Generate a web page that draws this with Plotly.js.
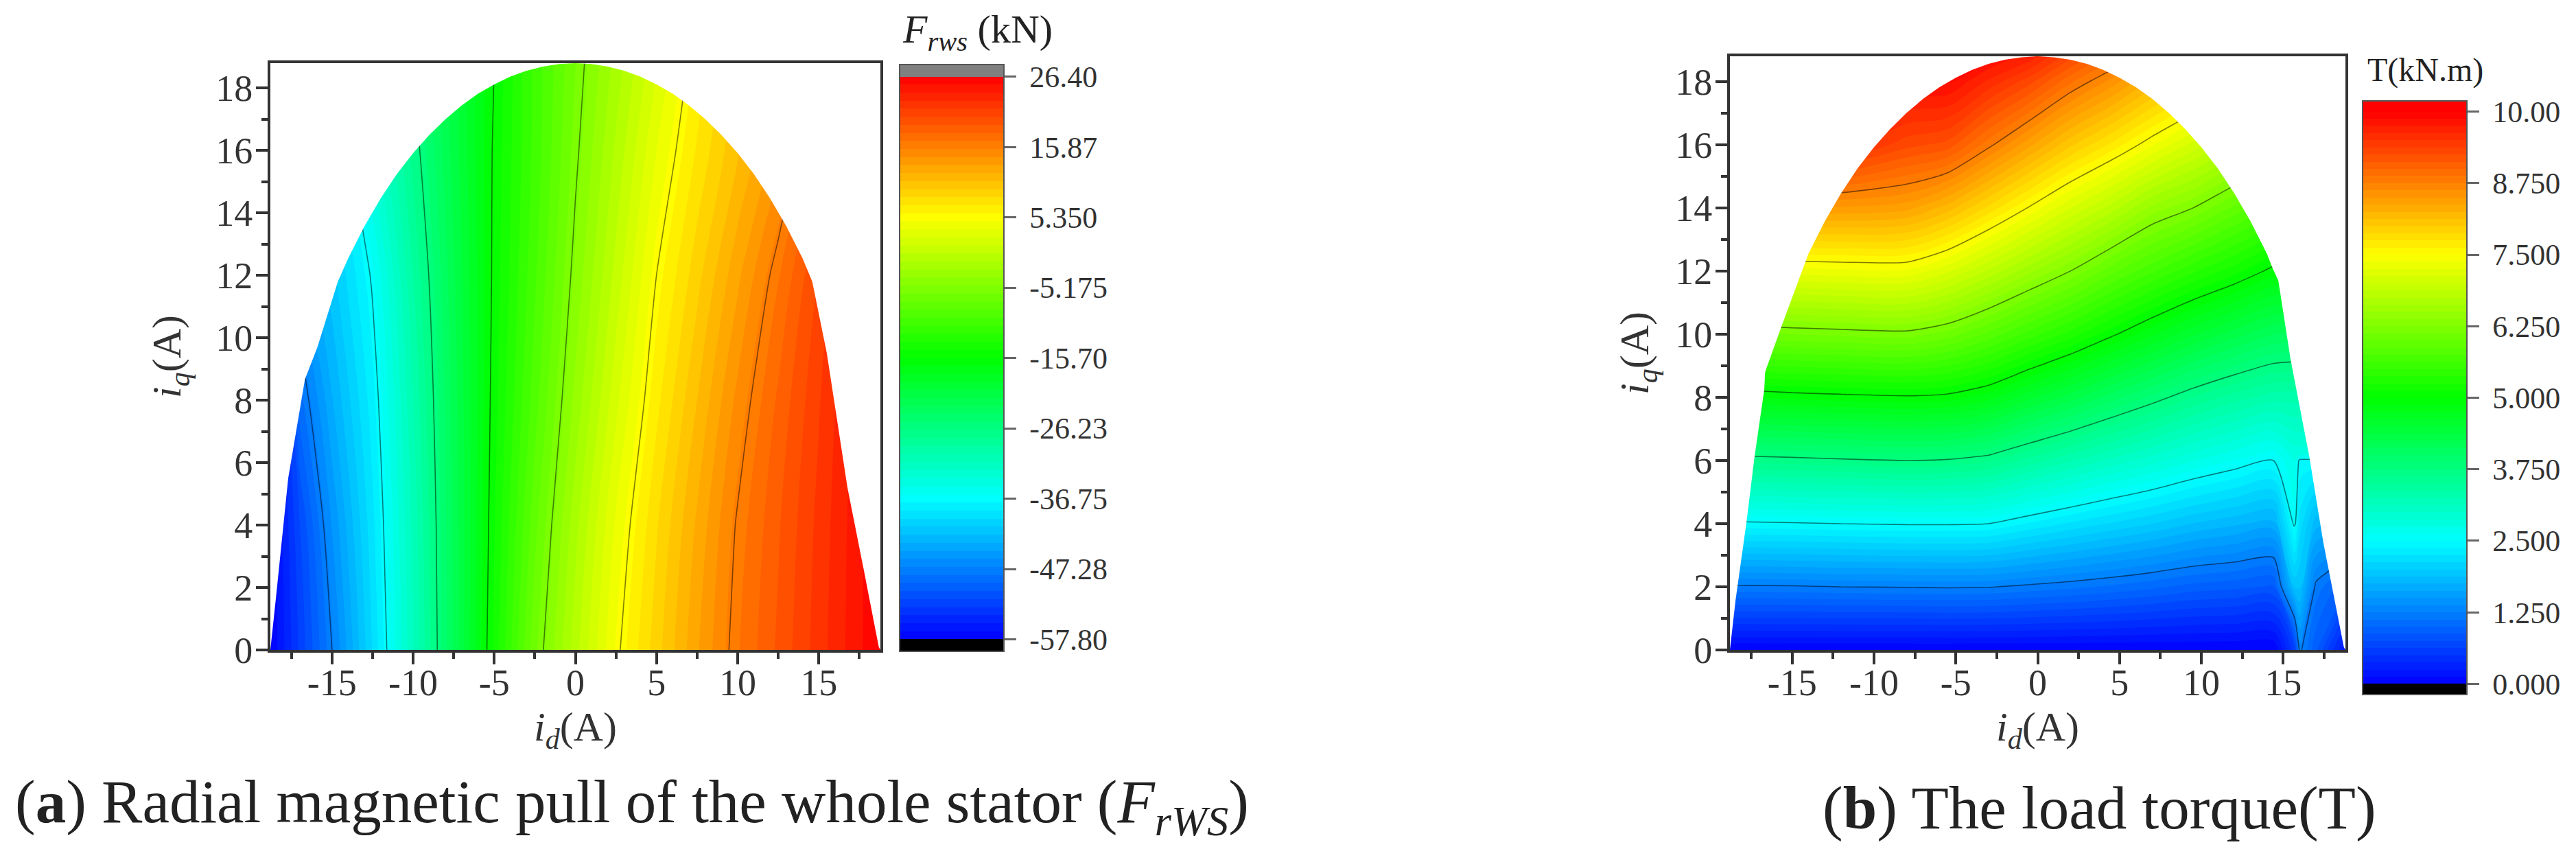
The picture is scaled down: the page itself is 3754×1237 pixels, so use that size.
<!DOCTYPE html>
<html>
<head>
<meta charset="utf-8">
<script src="https://cdn.plot.ly/plotly-3.0.1.min.js"></script>
<style>html,body{margin:0;padding:0;background:#fff}</style>
</head>
<body>
<div id="chart"></div>
<script>
// left panel: radial pull, kN
var idA = [-18.8,-17,-15,-12.5,-10,-7.5,-5,-2.5,0,2.5,5,7.5,10,12.5,15,17,18.8];
var iqA = [0,4,8,12,16,18.8];
var pullA = [
  [-57.8,-52.8,-47.28,-39.65,-31.4,-22.72,-14.15,-6.41,-0.57,4.91,9.02,13,16.65,19.42,22.19,24.4,26.4],
  [-57.8,-51.9,-45.66,-38.9,-30.99,-22.61,-14.59,-7.67,-1.67,3.8,8.22,12.2,16.1,19.03,21.95,24.3,26.4],
  [-57.8,-48.78,-43.47,-37.87,-30.17,-22.32,-14.98,-9.01,-3.28,1.98,6.78,10.77,14.75,18.21,21.46,24.06,26.4],
  [-48.8,-45.33,-41.43,-36.45,-28.93,-21.91,-15.27,-9.9,-4.58,0.38,5.35,9.11,12.87,16.65,20.52,23.6,26.4],
  [-48.75,-44.35,-39.45,-33.32,-27.21,-21.25,-15.4,-10.48,-5.57,-1,3.53,7.32,10.61,13.9,18.06,22.45,26.4],
  [-48,-43,-38,-31.8,-26,-20.8,-15.7,-10.5,-6.1,-2,2.2,6.3,9.8,13,15.9,21,26.4]
];
// top of the operating limit, same in both panels
var arcId = [-14,-13,-12,-11,-10,-9,-8,-7,-6,-5,-4,-3,-2,-1,0,1,2,3,4,5,6,7,8,9,10,11,12,13,14];
var arcIq = [12.55,13.58,14.47,15.25,15.92,16.5,17.01,17.45,17.82,18.12,18.37,18.56,18.69,18.77,18.8,18.77,18.69,18.56,18.37,18.12,17.82,17.45,17.01,16.5,15.92,15.25,14.47,13.58,12.55];
var leftIdA = [-18.8,-18.45,-17.7,-16.67,-15.9,-14.64];
var leftIqA = [0,1.7,5.5,8.67,9.7,11.8];
var rightIdA = [14.6,15.5,16.77,17.8,18.7,18.8];
var rightIqA = [11.8,9.5,5.2,2.5,0.1,0];
var ticksA = [-57.8,-47.28,-36.75,-26.23,-15.7,-5.175,5.35,15.87,26.4];
var tickTextA = ['-57.80','-47.28','-36.75','-26.23','-15.70','-5.175','5.350','15.87','26.40'];

// right panel: load torque, kN.m
var idB = [-18.8,-15,-12,-8,-5.5,-3,-0.5,2,4.5,7,9.5,12,14.4,15.7,16,17,18.8];
var iqB = [0,2,4,6,6.2,8,10,12,14,16,18,18.8];
var torqueB = [
  [0,0,0,0,0,0,0,0,0,0,0,0,0,0.6,1.3,0.9,0.2],
  [1.22,1.23,1.25,1.26,1.27,1.26,1.21,1.16,1.1,1.03,0.95,0.91,0.86,1.9,1.9,1.2,0.9],
  [2.46,2.48,2.5,2.52,2.52,2.5,2.36,2.23,2.11,2,1.87,1.78,1.7,2.55,2.2,1.8,1.7],
  [3.66,3.69,3.72,3.75,3.73,3.65,3.45,3.27,3.09,2.93,2.76,2.62,2.5,2.75,2.45,2.45,2.45],
  [3.78,3.81,3.84,3.87,3.85,3.77,3.56,3.37,3.19,3.02,2.85,2.7,2.58,2.8,2.8,2.8,2.8],
  [4.85,4.91,4.94,4.97,4.94,4.8,4.54,4.31,4.06,3.84,3.62,3.44,3.31,3.3,3.3,3.3,3.3],
  [6.07,6.13,6.16,6.19,6.07,5.84,5.57,5.32,5.04,4.77,4.52,4.31,4.13,4.1,4.1,4.1,4.1],
  [7.29,7.32,7.34,7.35,7.15,6.85,6.54,6.25,5.92,5.65,5.4,5.18,4.94,4.9,4.9,4.9,4.9],
  [8.46,8.47,8.48,8.42,8.19,7.84,7.48,7.13,6.82,6.46,6.25,5.97,5.74,5.7,5.7,5.7,5.7],
  [9.6,9.6,9.6,9.3,9.2,8.8,8.41,8.03,7.72,7.39,7.08,6.77,6.53,6.5,6.5,6.5,6.5],
  [10.2,10.2,10.2,9.9,9.9,9.6,9.3,8.9,8.58,8.22,7.92,7.58,7.34,7.3,7.3,7.3,7.3],
  [10.4,10.4,10.4,10.1,10.1,9.9,9.7,9.3,8.95,8.55,8.25,7.92,7.66,7.6,7.6,7.6,7.6]
];
var leftIdB = [-18.8,-18.45,-17.8,-17.3,-16.7,-16.65,-15.65,-14.15];
var leftIqB = [0,1.6,4,6.1,8.25,8.8,10.25,12.3];
var rightIdB = [14.3,14.7,15.45,16.6,17.45,18.7,18.8];
var rightIqB = [12.15,11.7,9.2,6.1,3.4,0.1,0];
var ticksB = [0,1.25,2.5,3.75,5,6.25,7.5,8.75,10];
var tickTextB = ['0.000','1.250','2.500','3.750','5.000','6.250','7.500','8.750','10.00'];

var idTicks = [-15,-10,-5,0,5,10,15];
var idTickText = ['-15','-10','-5','0','5','10','15'];
var idMinor = [-17.5,-12.5,-7.5,-2.5,2.5,7.5,12.5,17.5];
var iqTicks = [0,2,4,6,8,10,12,14,16,18];
var iqMinor = [1,3,5,7,9,11,13,15,17];

var W = 3754, H = 1237;
var fx = function (p) { return p / W; };
var fy = function (p) { return 1 - p / H; };
var serif = 'Liberation Serif, Times New Roman, serif';
var ink = '#333';

var scaleA = [[0,'#000'],[0.02055,'#000'],[0.02055,'#0000ff'],[0.2603,'#00ffff'],[0.5,'#00ff00'],[0.7397,'#ffff00'],[0.97945,'#ff0000'],[0.97945,'#808080'],[1,'#808080']];
var scaleB = [[0,'#000'],[0.01807,'#000'],[0.01807,'#0000ff'],[0.259,'#00ffff'],[0.5,'#00ff00'],[0.741,'#ffff00'],[0.98193,'#ff0000'],[1,'#ff0000']];

function filled(x, y, z, xa, ya, start, end, size, scale, ticks, text, barLeft, barTop, barH) {
  return {
    type: 'contour', x: x, y: y, z: z, xaxis: xa, yaxis: ya,
    autocontour: false, colorscale: scale, hoverinfo: 'skip',
    contours: { coloring: 'fill', showlines: false, start: start, end: end, size: size },
    line: { width: 0 },
    colorbar: {
      x: fx(barLeft), xanchor: 'left', xpad: 0, y: fy(barTop), yanchor: 'top', ypad: 0,
      thicknessmode: 'pixels', thickness: 152, lenmode: 'pixels', len: barH,
      outlinecolor: '#555', outlinewidth: 2,
      tickmode: 'array', tickvals: ticks,
      ticktext: text.map(function (t) { return '\u00a0' + t; }),
      ticks: 'outside', ticklen: 17, tickwidth: 3, tickcolor: '#666',
      tickfont: { family: serif, size: 44, color: ink }
    }
  };
}
function isolines(x, y, z, xa, ya, start, end, size) {
  return {
    type: 'contour', x: x, y: y, z: z, xaxis: xa, yaxis: ya, showscale: false,
    autocontour: false, hoverinfo: 'skip',
    contours: { coloring: 'none', start: start, end: end, size: size },
    line: { color: 'rgba(0,0,0,0.5)', width: 1.6, smoothing: 0.6 }
  };
}
// white area above the operating limit
function limit(leftX, leftY, rightX, rightY, xa, ya) {
  return {
    type: 'scatter', mode: 'lines', xaxis: xa, yaxis: ya, hoverinfo: 'skip',
    x: leftX.concat(arcId, rightX, [18.8, -18.8, -18.8]),
    y: leftY.concat(arcIq, rightY, [19.2, 19.2, 0]),
    fill: 'toself', fillcolor: '#fff', line: { width: 0 }, showlegend: false
  };
}
function xAxis(left, right, anchor) {
  return {
    domain: [fx(left), fx(right)], anchor: anchor, range: [-18.8, 18.8],
    tickmode: 'array', tickvals: idTicks, ticktext: idTickText, ticklabelstandoff: -20,
    ticks: 'outside', ticklen: 17, tickwidth: 4, tickcolor: ink,
    minor: { tickvals: idMinor, ticks: 'outside', ticklen: 9, tickwidth: 4, tickcolor: ink },
    showline: true, linecolor: ink, linewidth: 4, mirror: true, showgrid: false, zeroline: false,
    tickfont: { family: serif, size: 54, color: ink },
    title: { text: '<i>i<sub>d</sub></i>(A)', font: { family: serif, size: 60, color: ink }, standoff: 14 }
  };
}
function yAxis(top, bottom, anchor, standoff) {
  return {
    domain: [fy(bottom), fy(top)], anchor: anchor, range: [0, 18.8],
    tickmode: 'array', tickvals: iqTicks, ticklabelstandoff: -6,
    ticks: 'outside', ticklen: 17, tickwidth: 4, tickcolor: ink,
    minor: { tickvals: iqMinor, ticks: 'outside', ticklen: 9, tickwidth: 4, tickcolor: ink },
    showline: true, linecolor: ink, linewidth: 4, mirror: true, showgrid: false, zeroline: false,
    tickfont: { family: serif, size: 54, color: ink },
    title: { text: '<i>i<sub>q</sub></i>(A)', font: { family: serif, size: 60, color: ink }, standoff: standoff }
  };
}

var data = [
  filled(idA, iqA, pullA, 'x', 'y', -59.0029, 27.61, 1.2029, scaleA, ticksA, tickTextA, 1311, 94, 855),
  isolines(idA, iqA, pullA, 'x', 'y', -47.28, 15.87, 10.525),
  limit(leftIdA, leftIqA, rightIdA, rightIqA, 'x', 'y'),
  filled(idB, iqB, torqueB, 'x2', 'y2', -0.125, 10.126, 0.125, scaleB, ticksB, tickTextB, 3443, 147, 865),
  isolines(idB, iqB, torqueB, 'x2', 'y2', 1.25, 8.75, 1.25),
  limit(leftIdB, leftIqB, rightIdB, rightIqB, 'x2', 'y2')
];

function note(text, px, py, size) {
  return {
    text: text, xref: 'paper', yref: 'paper', x: fx(px), y: fy(py),
    xanchor: 'left', yanchor: 'bottom', showarrow: false,
    font: { family: serif, size: size, color: '#222' }
  };
}

var layout = {
  width: W, height: H, showlegend: false,
  margin: { l: 0, r: 0, t: 0, b: 0 },
  paper_bgcolor: '#fff', plot_bgcolor: '#fff',
  xaxis: xAxis(394, 1283, 'y'),
  yaxis: yAxis(92, 947, 'x', 32),
  xaxis2: xAxis(2521, 3418, 'y2'),
  yaxis2: yAxis(82, 947, 'x2', 20),
  annotations: [
    note('<i>F<sub>rws</sub></i> (kN)', 1313, 85, 58),
    note('T(kN.m)', 3448, 131, 48),
    note('(<b>a</b>) Radial magnetic pull of the whole stator (<i>F<sub>rWS</sub></i>)', 20, 1232, 89),
    note('(<b>b</b>) The load torque(T)', 2654, 1228, 89)
  ]
};

Plotly.newPlot('chart', data, layout, { displayModeBar: false, staticPlot: true });
</script>
</body>
</html>
